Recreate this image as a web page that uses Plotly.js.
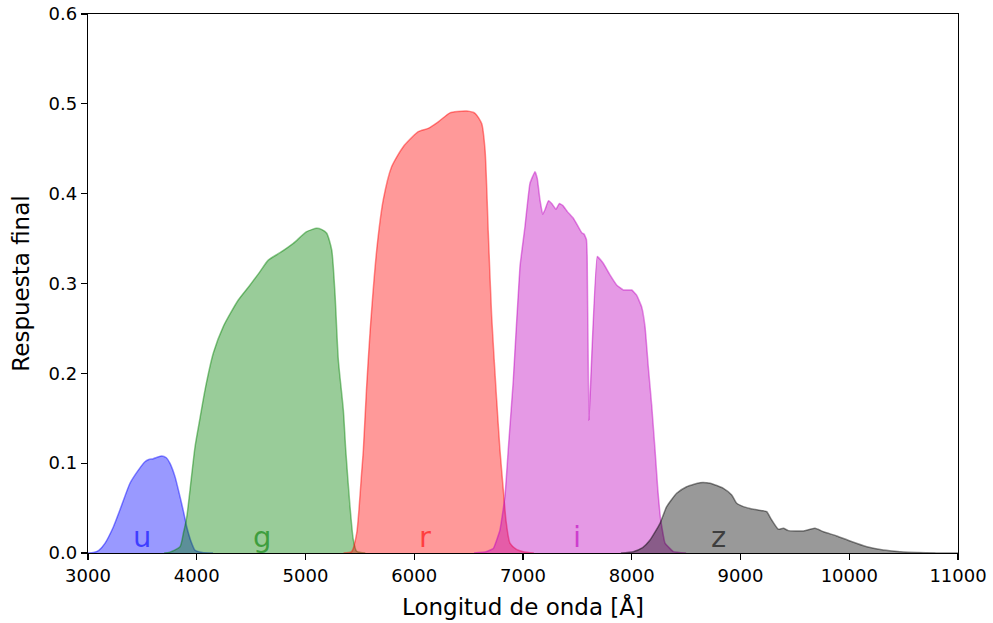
<!DOCTYPE html>
<html>
<head>
<meta charset="utf-8">
<script src="https://cdn.plot.ly/plotly-3.0.1.min.js"></script>
<style>html,body{margin:0;padding:0;background:#fff;}#chart{width:993px;height:623px;}</style>
</head>
<body>
<div id="chart"></div>
<script>
// Filter response curves (wavelength in Å, final response)
const uWave = [3000, 3050, 3100, 3156, 3233, 3300, 3386, 3450, 3524, 3560, 3600, 3677, 3720, 3754, 3800, 3846, 3880, 3908, 3950, 3984, 4050, 4150];
const uResp = [0, 0.0005, 0.003, 0.0108, 0.029, 0.05, 0.0776, 0.09, 0.1016, 0.104, 0.105, 0.108, 0.106, 0.0998, 0.085, 0.0627, 0.045, 0.029, 0.012, 0.003, 0.0005, 0];

const gWave = [3700, 3754, 3846, 3877, 3908, 3938, 3984, 4030, 4076, 4152, 4244, 4382, 4490, 4580, 4658, 4766, 4888, 5011, 5103, 5150, 5195, 5241, 5271, 5302, 5348, 5370, 5409, 5440, 5470, 5550];
const gResp = [0, 0.001, 0.007, 0.022, 0.040, 0.070, 0.118, 0.15, 0.1814, 0.2223, 0.252, 0.2816, 0.2983, 0.313, 0.326, 0.3343, 0.3447, 0.3577, 0.3614, 0.360, 0.3559, 0.3373, 0.289, 0.2148, 0.159, 0.1147, 0.052, 0.0145, 0.002, 0];

const rWave = [5350, 5425, 5471, 5516, 5532, 5560, 5593, 5655, 5715, 5792, 5899, 6037, 6129, 6221, 6329, 6400, 6482, 6559, 6620, 6651, 6681, 6712, 6758, 6788, 6819, 6845, 6880, 6940, 7003, 7100];
const rResp = [0, 0.0015, 0.022, 0.089, 0.1147, 0.18, 0.2446, 0.3373, 0.393, 0.43, 0.4523, 0.469, 0.4727, 0.480, 0.490, 0.4915, 0.492, 0.4895, 0.478, 0.4486, 0.356, 0.263, 0.17, 0.115, 0.07, 0.035, 0.011, 0.004, 0.0015, 0];

const iWave = [6550, 6660, 6727, 6788, 6834, 6865, 6911, 6972, 7018, 7064, 7110, 7131, 7156, 7181, 7205, 7233, 7264, 7303, 7334, 7365, 7408, 7463, 7509, 7540, 7561, 7583, 7590, 7607, 7683, 7738, 7800, 7861, 7923, 8000, 8045, 8091, 8122, 8152, 8183, 8214, 8240, 8265, 8306, 8383, 8500];
const iResp = [0, 0.0015, 0.005, 0.0256, 0.0627, 0.116, 0.1926, 0.3187, 0.3632, 0.4115, 0.4245, 0.417, 0.393, 0.377, 0.383, 0.392, 0.389, 0.3826, 0.389, 0.387, 0.380, 0.3726, 0.363, 0.3566, 0.355, 0.349, 0.33, 0.148, 0.330, 0.3225, 0.3095, 0.2983, 0.2928, 0.2928, 0.287, 0.274, 0.252, 0.2074, 0.165, 0.115, 0.07, 0.038, 0.011, 0.0015, 0];

const zWave = [7900, 8014, 8100, 8168, 8260, 8321, 8413, 8505, 8628, 8720, 8842, 8919, 8965, 9026, 9118, 9210, 9241, 9287, 9348, 9394, 9440, 9517, 9578, 9685, 9762, 9884, 10007, 10161, 10313, 10466, 10620, 10800, 11000];
const zResp = [0, 0.0015, 0.006, 0.0145, 0.033, 0.0516, 0.0665, 0.0738, 0.0783, 0.0776, 0.072, 0.0646, 0.0553, 0.0516, 0.0486, 0.047, 0.046, 0.0367, 0.0264, 0.0275, 0.0249, 0.0245, 0.0245, 0.0275, 0.0237, 0.019, 0.0134, 0.007, 0.0033, 0.0015, 0.0005, 0.0001, 0];

const bandNames = ['u', 'g', 'r', 'i', 'z'];
const bandLabelX = [3500, 4600, 6100, 7500, 8800];
const bandLabelY = [0.018, 0.018, 0.018, 0.018, 0.018];
const bandRGB = ['0,0,255', '0,128,0', '255,0,0', '191,0,191', '0,0,0'];

const waves = [uWave, gWave, rWave, iWave, zWave];
const resps = [uResp, gResp, rResp, iResp, zResp];
const smooth = [0.6, 0.6, 0.6, 0.3, 0.5];

const traces = bandNames.map((b, k) => ({
  type: 'scatter', mode: 'lines', name: b,
  x: waves[k], y: resps[k],
  fill: 'tozeroy',
  fillcolor: 'rgba(' + bandRGB[k] + ',0.4)',
  line: {color: 'rgba(' + bandRGB[k] + ',0.45)', width: 1.5, shape: 'spline', smoothing: smooth[k]},
  hoverinfo: 'skip'
}));

const annotations = bandNames.map((b, k) => ({
  x: bandLabelX[k], y: bandLabelY[k], xref: 'x', yref: 'y',
  text: b, showarrow: false, xanchor: 'center', yanchor: 'middle',
  font: {family: 'DejaVu Sans', size: 29, color: 'rgba(' + bandRGB[k] + ',0.6)'}
}));

const axisCommon = {
  showgrid: false, zeroline: false, showline: true, mirror: true,
  linecolor: '#000', linewidth: 1.3, ticks: 'outside', ticklen: 6, tickwidth: 1.3, tickcolor: '#000',
  tickfont: {family: 'DejaVu Sans', size: 18, color: '#000'}
};

const layout = {
  width: 993, height: 623,
  margin: {l: 88, r: 35, t: 14, b: 70},
  paper_bgcolor: '#fff', plot_bgcolor: '#fff',
  showlegend: false,
  font: {family: 'DejaVu Sans', color: '#000'},
  xaxis: Object.assign({}, axisCommon, {
    range: [3000, 11000], tick0: 3000, dtick: 1000, tickformat: 'd', separatethousands: false,
    title: {text: 'Longitud de onda [Å]', font: {family: 'DejaVu Sans', size: 23, color: '#000'}, standoff: 14}
  }),
  yaxis: Object.assign({}, axisCommon, {
    range: [0, 0.6], tick0: 0, dtick: 0.1, tickformat: '.1f',
    title: {text: 'Respuesta final', font: {family: 'DejaVu Sans', size: 23, color: '#000'}, standoff: 12}
  }),
  annotations: annotations
};

Plotly.newPlot('chart', traces, layout, {staticPlot: true, displayModeBar: false});
</script>
</body>
</html>
